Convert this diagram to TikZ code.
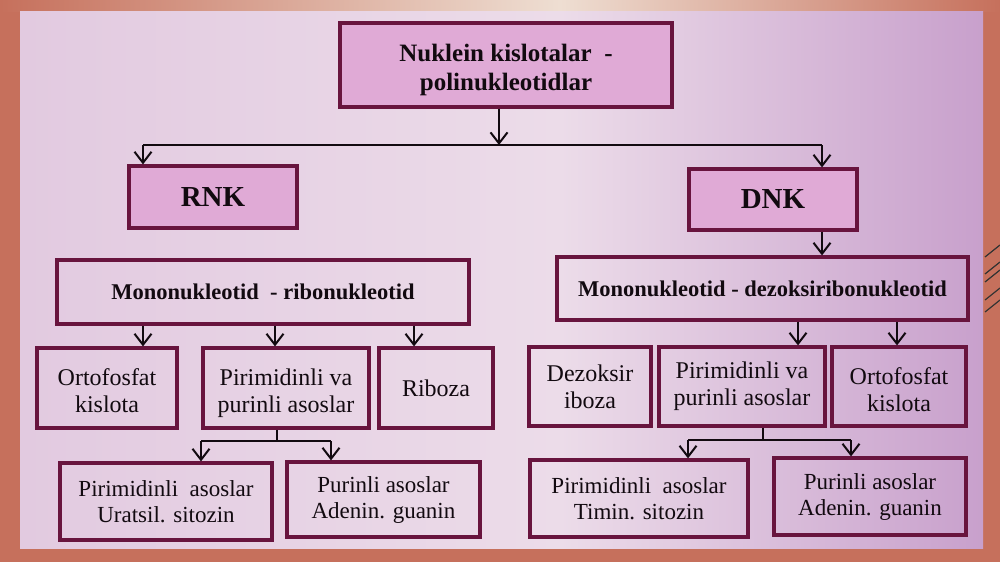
\documentclass[tikz,border=0pt]{standalone}
\usepackage{fontspec}
\setmainfont{Liberation Serif}
\usetikzlibrary{arrows.meta,calc}
\definecolor{salmon}{RGB}{198,112,92}
\definecolor{beige}{RGB}{238,222,210}
\definecolor{pageL}{RGB}{226,202,224}
\definecolor{pageM}{RGB}{236,220,233}
\definecolor{pageR}{RGB}{200,160,204}
\definecolor{pinkfill}{RGB}{224,170,214}
\definecolor{maroon}{RGB}{104,20,62}
\definecolor{ink}{RGB}{18,10,16}
\tikzset{
  box/.style={draw=maroon,line width=3.2pt,inner sep=0pt,align=center,text=ink},
  pinkbox/.style={box,fill=pinkfill},
  bigt/.style={font=\fontsize{25}{29}\selectfont\bfseries},
  hugt/.style={font=\fontsize{29}{32}\selectfont\bfseries},
  midt/.style={font=\fontsize{22.5}{26}\selectfont\bfseries},
  regt/.style={font=\fontsize{24}{27}\selectfont},
  regs/.style={font=\fontsize{23}{26}\selectfont},
  arr/.style={draw=ink,line width=2pt,-{Straight Barb[length=11pt,width=17pt,line width=2pt]}},
  ln/.style={draw=ink,line width=2pt}
}
\begin{document}
\begin{tikzpicture}[x=1pt,y=-1pt]
\useasboundingbox (0,0) rectangle (1000,562);
% frame and page
\fill[salmon] (0,0) rectangle (1000,562);
\shade[left color=salmon,right color=beige] (0,0) rectangle (560,11);
\shade[left color=beige,right color=salmon] (560,0) rectangle (1000,11);
\shade[left color=pageL,right color=pageM] (20,11) rectangle (560,548);
\shade[left color=pageM,right color=pageR] (560,11) rectangle (983,548);
\foreach \yy in {245,262,270,288,300}{
  \draw[black!80,line width=1.2pt] (985,\yy+12) -- (1000,\yy);
}
% nodes
\node[pinkbox,minimum width=332,minimum height=84,
  label={[bigt,align=center,text=ink,yshift=-5pt]center:Nuklein kislotalar\ \ -\\polinukleotidlar}] (top) at (506,65) {};
\node[pinkbox,hugt,minimum width=168,minimum height=62] (rnk) at (213,197) {RNK};
\node[pinkbox,hugt,minimum width=168,minimum height=61] (dnk) at (773,199.5) {DNK};
\node[box,midt,minimum width=412,minimum height=64] (monor) at (263,292) {Mononukleotid\ \ - ribonukleotid};
\node[box,midt,minimum width=411,minimum height=63] (monod) at (762.5,288.5) {Mononukleotid - dezoksiribonukleotid};
\node[box,minimum width=140,minimum height=80,
  label={[regt,align=center,text=ink,yshift=-3pt]center:Ortofosfat\\kislota}] (ortol) at (107,388) {};
\node[box,minimum width=166,minimum height=80,
  label={[regt,align=center,text=ink,yshift=-5pt]center:Pirimidinli va\\purinli asoslar}] (pirl) at (286,388) {};
\node[box,regt,minimum width=114,minimum height=80] (rib) at (436,388) {Riboza};
\node[box,regt,minimum width=122,minimum height=79] (dez) at (590,386.5) {Dezoksir\\iboza};
\node[box,regt,minimum width=166,minimum height=79] (pirr) at (742,386.5) {Pirimidinli va\\purinli asoslar};
\node[box,minimum width=134,minimum height=79,
  label={[regt,align=center,text=ink,yshift=-3pt]center:Ortofosfat\\kislota}] (ortor) at (899,386.5) {};
\node[box,regs,minimum width=212,minimum height=77] (pirasl) at (166,501.5) {Pirimidinli\ \ asoslar\\Uratsil. sitozin};
\node[box,regs,minimum width=193,minimum height=75] (purl) at (383.5,499.5) {Purinli asoslar\\Adenin. guanin};
\node[box,regs,minimum width=218,minimum height=77] (pirasr) at (639,498.5) {Pirimidinli\ \ asoslar\\Timin. sitozin};
\node[box,regs,minimum width=192,minimum height=77] (purr) at (870,496.5) {Purinli asoslar\\Adenin. guanin};
% junction coordinates
\coordinate (jt) at (499,145);
\coordinate (jl) at (143,145);
\coordinate (jr) at (822,145);
\coordinate (ja) at (277,441);
\coordinate (jal) at (201,441);
\coordinate (jar) at (331,441);
\coordinate (jb) at (763,440);
\coordinate (jbl) at (688,440);
\coordinate (jbr) at (851,440);
% connectors
\draw[arr] (top.south -| jt) -- (jt);
\draw[ln] (jl) -- (jr);
\draw[arr] (jl) -- (jl |- rnk.north);
\draw[arr] (jr) -- (jr |- dnk.north);
\draw[arr] (dnk.south -| jr) -- (jr |- monod.north);
\draw[arr] ($(monor.south)+(-120,0)$) -- ($(ortol.north)+(36,0)$);
\draw[arr] ($(monor.south)+(12,0)$) -- ($(pirl.north)+(-11,0)$);
\draw[arr] ($(monor.south)+(151,0)$) -- ($(rib.north)+(-22,0)$);
\draw[arr] ($(monod.south)+(35.5,0)$) -- ($(pirr.north)+(56,0)$);
\draw[arr] ($(monod.south)+(134.5,0)$) -- ($(ortor.north)+(-2,0)$);
\draw[ln] (pirl.south -| ja) -- (ja);
\draw[ln] (jal) -- (jar);
\draw[arr] (jal) -- (jal |- pirasl.north);
\draw[arr] (jar) -- (jar |- purl.north);
\draw[ln] (pirr.south -| jb) -- (jb);
\draw[ln] (jbl) -- (jbr);
\draw[arr] (jbl) -- (jbl |- pirasr.north);
\draw[arr] (jbr) -- (jbr |- purr.north);
\end{tikzpicture}
\end{document}
